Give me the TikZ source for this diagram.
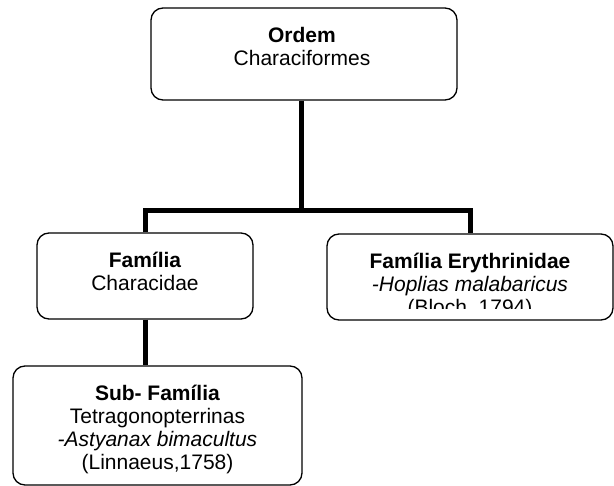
\documentclass[tikz,border=0pt]{standalone}
\usepackage{fontspec}
\setmainfont{Liberation Sans}
\begin{document}
\begin{tikzpicture}[x=1pt,y=-1pt,
  box/.style={draw, line width=1.3pt, rounded corners=12pt, inner sep=0pt},
  conn/.style={line width=5pt, line join=miter},
  txt/.style={align=center, inner sep=0pt, anchor=north, font=\fontsize{21}{23}\selectfont}]
\useasboundingbox (0,0) rectangle (614,486);
% boxes
\node[box, minimum width=306pt, minimum height=92pt] (ord) at (304,54) {};
\node[box, minimum width=216pt, minimum height=86pt] (fam) at (145,276) {};
\node[box, minimum width=286pt, minimum height=86pt] (ery) at (470,277) {};
\node[box, minimum width=289pt, minimum height=119pt] (sub) at (157.5,425.5) {};
% texts
\node[txt] (ordt) at (302,22) {\rule{0pt}{20pt}\textbf{Ordem}\\Characiformes};
\node[txt] (famt) at (145,247) {\rule{0pt}{20pt}\textbf{Família}\\Characidae};
\begin{scope}
  \clip (327,234) rectangle (613,309);
  \node[txt] (eryt) at (470,248) {\rule{0pt}{20pt}\textbf{Família Erythrinidae}\\\textit{-Hoplias malabaricus}\\(Bloch, 1794)};
\end{scope}
\node[txt] (subt) at (157.5,380) {\rule{0pt}{20pt}\textbf{Sub- Família}\\Tetragonopterrinas\\\textit{-Astyanax bimacultus}\\(Linnaeus,1758)};
% connectors
\coordinate (j) at (301,210.5);
\draw[conn] (ord.south -| j) -- (j);
\draw[conn] (fam.north) -- (fam.north |- j) -- (ery.north |- j) -- (ery.north);
\draw[conn] (fam.south) -- (fam.south |- sub.north);
\end{tikzpicture}
\end{document}
